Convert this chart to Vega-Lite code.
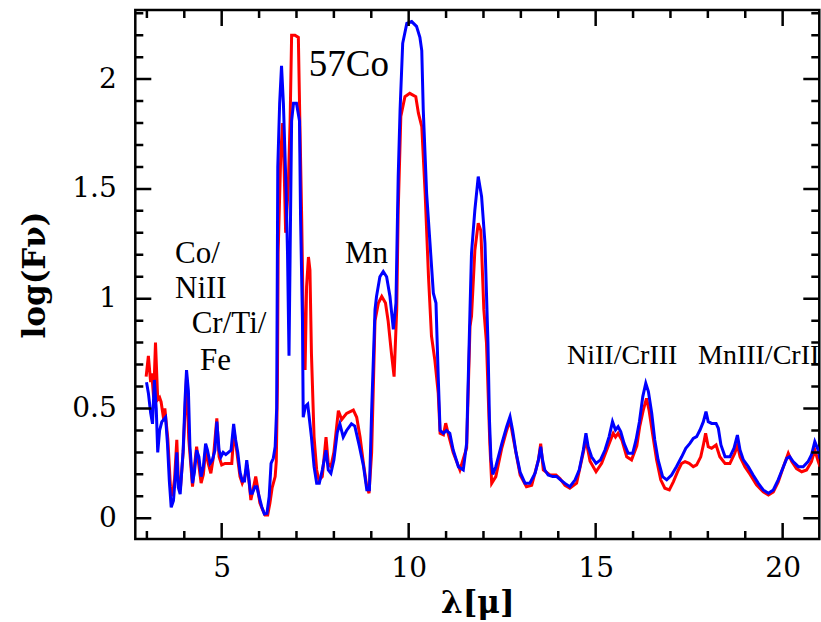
{
"$schema": "https://vega.github.io/schema/vega-lite/v6.json",
"width": 684, "height": 529,
"autosize": {"type": "none"},
"padding": {"left": 135.3, "top": 10, "right": 1.7, "bottom": 83},
"background": "white",
"config": {"view": {"stroke": "#000", "strokeWidth": 2.5},
 "axis": {"domain": false, "grid": false, "ticks": false, "labelColor": "#000", "labelFont": "DejaVu Serif", "labelFontSize": 28, "titleColor": "#000", "titleFont": "DejaVu Serif", "titleFontSize": 31, "titleFontWeight": "bold"}},
"datasets": {
"spec": [
{"s":"b","x":2.99,"y":0.62},{"s":"b","x":3.04,"y":0.57},{"s":"b","x":3.10,"y":0.48},{"s":"b","x":3.15,"y":0.43},{"s":"b","x":3.20,"y":0.63},{"s":"b","x":3.25,"y":0.50},{"s":"b","x":3.29,"y":0.30},{"s":"b","x":3.34,"y":0.40},{"s":"b","x":3.40,"y":0.44},{"s":"b","x":3.50,"y":0.46},{"s":"b","x":3.55,"y":0.34},{"s":"b","x":3.60,"y":0.17},{"s":"b","x":3.65,"y":0.05},{"s":"b","x":3.71,"y":0.08},{"s":"b","x":3.77,"y":0.21},{"s":"b","x":3.80,"y":0.30},{"s":"b","x":3.84,"y":0.14},{"s":"b","x":3.89,"y":0.11},{"s":"b","x":3.97,"y":0.31},{"s":"b","x":4.02,"y":0.54},{"s":"b","x":4.06,"y":0.675},{"s":"b","x":4.11,"y":0.58},{"s":"b","x":4.15,"y":0.33},{"s":"b","x":4.22,"y":0.16},{"s":"b","x":4.27,"y":0.21},{"s":"b","x":4.33,"y":0.31},{"s":"b","x":4.39,"y":0.28},{"s":"b","x":4.45,"y":0.19},{"s":"b","x":4.51,"y":0.235},{"s":"b","x":4.57,"y":0.34},{"s":"b","x":4.62,"y":0.31},{"s":"b","x":4.69,"y":0.25},{"s":"b","x":4.75,"y":0.265},{"s":"b","x":4.82,"y":0.31},{"s":"b","x":4.87,"y":0.44},{"s":"b","x":4.93,"y":0.31},{"s":"b","x":4.98,"y":0.28},{"s":"b","x":5.04,"y":0.30},{"s":"b","x":5.11,"y":0.29},{"s":"b","x":5.18,"y":0.30},{"s":"b","x":5.25,"y":0.31},{"s":"b","x":5.32,"y":0.43},{"s":"b","x":5.37,"y":0.36},{"s":"b","x":5.43,"y":0.30},{"s":"b","x":5.49,"y":0.21},{"s":"b","x":5.55,"y":0.17},{"s":"b","x":5.61,"y":0.17},{"s":"b","x":5.67,"y":0.265},{"s":"b","x":5.71,"y":0.205},{"s":"b","x":5.77,"y":0.114},{"s":"b","x":5.82,"y":0.114},{"s":"b","x":5.89,"y":0.144},{"s":"b","x":5.94,"y":0.144},{"s":"b","x":6.00,"y":0.10},{"s":"b","x":6.07,"y":0.053},{"s":"b","x":6.14,"y":0.02},{"s":"b","x":6.21,"y":0.023},{"s":"b","x":6.27,"y":0.10},{"s":"b","x":6.32,"y":0.25},{"s":"b","x":6.38,"y":0.273},{"s":"b","x":6.43,"y":0.326},{"s":"b","x":6.47,"y":0.50},{"s":"b","x":6.50,"y":1.60},{"s":"b","x":6.55,"y":1.89},{"s":"b","x":6.60,"y":2.06},{"s":"b","x":6.65,"y":1.89},{"s":"b","x":6.72,"y":1.51},{"s":"b","x":6.76,"y":1.21},{"s":"b","x":6.80,"y":0.74},{"s":"b","x":6.83,"y":1.21},{"s":"b","x":6.87,"y":1.81},{"s":"b","x":6.92,"y":1.89},{"s":"b","x":7.00,"y":1.89},{"s":"b","x":7.08,"y":1.81},{"s":"b","x":7.11,"y":1.36},{"s":"b","x":7.16,"y":0.90},{"s":"b","x":7.18,"y":0.46},{"s":"b","x":7.24,"y":0.51},{"s":"b","x":7.30,"y":0.52},{"s":"b","x":7.34,"y":0.46},{"s":"b","x":7.40,"y":0.37},{"s":"b","x":7.47,"y":0.235},{"s":"b","x":7.54,"y":0.16},{"s":"b","x":7.61,"y":0.16},{"s":"b","x":7.69,"y":0.22},{"s":"b","x":7.79,"y":0.31},{"s":"b","x":7.85,"y":0.22},{"s":"b","x":7.92,"y":0.205},{"s":"b","x":8.00,"y":0.265},{"s":"b","x":8.09,"y":0.39},{"s":"b","x":8.16,"y":0.43},{"s":"b","x":8.25,"y":0.37},{"s":"b","x":8.34,"y":0.40},{"s":"b","x":8.47,"y":0.43},{"s":"b","x":8.56,"y":0.42},{"s":"b","x":8.68,"y":0.33},{"s":"b","x":8.79,"y":0.24},{"s":"b","x":8.88,"y":0.13},{"s":"b","x":8.95,"y":0.13},{"s":"b","x":9.01,"y":0.49},{"s":"b","x":9.10,"y":0.95},{"s":"b","x":9.14,"y":1.01},{"s":"b","x":9.23,"y":1.10},{"s":"b","x":9.32,"y":1.124},{"s":"b","x":9.41,"y":1.10},{"s":"b","x":9.50,"y":1.01},{"s":"b","x":9.59,"y":0.86},{"s":"b","x":9.66,"y":0.98},{"s":"b","x":9.72,"y":1.556},{"s":"b","x":9.77,"y":1.86},{"s":"b","x":9.84,"y":2.163},{"s":"b","x":9.95,"y":2.254},{"s":"b","x":10.08,"y":2.262},{"s":"b","x":10.21,"y":2.24},{"s":"b","x":10.30,"y":2.19},{"s":"b","x":10.35,"y":2.13},{"s":"b","x":10.39,"y":1.86},{"s":"b","x":10.48,"y":1.48},{"s":"b","x":10.57,"y":1.253},{"s":"b","x":10.66,"y":1.025},{"s":"b","x":10.73,"y":0.98},{"s":"b","x":10.79,"y":0.645},{"s":"b","x":10.84,"y":0.40},{"s":"b","x":10.93,"y":0.387},{"s":"b","x":11.01,"y":0.40},{"s":"b","x":11.10,"y":0.387},{"s":"b","x":11.19,"y":0.311},{"s":"b","x":11.33,"y":0.235},{"s":"b","x":11.46,"y":0.22},{"s":"b","x":11.55,"y":0.342},{"s":"b","x":11.64,"y":0.95},{"s":"b","x":11.68,"y":1.207},{"s":"b","x":11.77,"y":1.404},{"s":"b","x":11.86,"y":1.556},{"s":"b","x":11.95,"y":1.465},{"s":"b","x":12.04,"y":1.253},{"s":"b","x":12.12,"y":0.80},{"s":"b","x":12.16,"y":0.45},{"s":"b","x":12.20,"y":0.27},{"s":"b","x":12.25,"y":0.20},{"s":"b","x":12.33,"y":0.235},{"s":"b","x":12.49,"y":0.34},{"s":"b","x":12.62,"y":0.417},{"s":"b","x":12.71,"y":0.463},{"s":"b","x":12.78,"y":0.40},{"s":"b","x":12.87,"y":0.30},{"s":"b","x":12.98,"y":0.21},{"s":"b","x":13.11,"y":0.16},{"s":"b","x":13.24,"y":0.16},{"s":"b","x":13.38,"y":0.205},{"s":"b","x":13.47,"y":0.266},{"s":"b","x":13.53,"y":0.326},{"s":"b","x":13.58,"y":0.266},{"s":"b","x":13.64,"y":0.22},{"s":"b","x":13.73,"y":0.197},{"s":"b","x":13.85,"y":0.19},{"s":"b","x":13.96,"y":0.19},{"s":"b","x":14.06,"y":0.175},{"s":"b","x":14.18,"y":0.159},{"s":"b","x":14.31,"y":0.144},{"s":"b","x":14.45,"y":0.175},{"s":"b","x":14.56,"y":0.22},{"s":"b","x":14.67,"y":0.311},{"s":"b","x":14.74,"y":0.387},{"s":"b","x":14.80,"y":0.326},{"s":"b","x":14.89,"y":0.28},{"s":"b","x":15.01,"y":0.25},{"s":"b","x":15.13,"y":0.266},{"s":"b","x":15.25,"y":0.311},{"s":"b","x":15.36,"y":0.372},{"s":"b","x":15.45,"y":0.44},{"s":"b","x":15.53,"y":0.402},{"s":"b","x":15.60,"y":0.417},{"s":"b","x":15.67,"y":0.395},{"s":"b","x":15.76,"y":0.341},{"s":"b","x":15.87,"y":0.296},{"s":"b","x":15.99,"y":0.296},{"s":"b","x":16.08,"y":0.357},{"s":"b","x":16.17,"y":0.44},{"s":"b","x":16.26,"y":0.554},{"s":"b","x":16.34,"y":0.615},{"s":"b","x":16.41,"y":0.577},{"s":"b","x":16.50,"y":0.478},{"s":"b","x":16.58,"y":0.357},{"s":"b","x":16.67,"y":0.266},{"s":"b","x":16.79,"y":0.19},{"s":"b","x":16.90,"y":0.175},{"s":"b","x":17.03,"y":0.197},{"s":"b","x":17.16,"y":0.235},{"s":"b","x":17.30,"y":0.28},{"s":"b","x":17.41,"y":0.319},{"s":"b","x":17.52,"y":0.341},{"s":"b","x":17.61,"y":0.364},{"s":"b","x":17.70,"y":0.372},{"s":"b","x":17.79,"y":0.402},{"s":"b","x":17.88,"y":0.44},{"s":"b","x":17.95,"y":0.486},{"s":"b","x":18.01,"y":0.44},{"s":"b","x":18.10,"y":0.432},{"s":"b","x":18.22,"y":0.432},{"s":"b","x":18.28,"y":0.41},{"s":"b","x":18.35,"y":0.334},{"s":"b","x":18.46,"y":0.28},{"s":"b","x":18.59,"y":0.28},{"s":"b","x":18.70,"y":0.319},{"s":"b","x":18.79,"y":0.379},{"s":"b","x":18.86,"y":0.311},{"s":"b","x":18.95,"y":0.266},{"s":"b","x":19.08,"y":0.235},{"s":"b","x":19.21,"y":0.197},{"s":"b","x":19.35,"y":0.159},{"s":"b","x":19.48,"y":0.129},{"s":"b","x":19.62,"y":0.114},{"s":"b","x":19.75,"y":0.129},{"s":"b","x":19.88,"y":0.175},{"s":"b","x":20.02,"y":0.235},{"s":"b","x":20.11,"y":0.273},{"s":"b","x":20.19,"y":0.28},{"s":"b","x":20.28,"y":0.258},{"s":"b","x":20.42,"y":0.235},{"s":"b","x":20.55,"y":0.235},{"s":"b","x":20.68,"y":0.258},{"s":"b","x":20.77,"y":0.288},{"s":"b","x":20.86,"y":0.349},{"s":"b","x":20.95,"y":0.311},{"s":"b","x":21.0,"y":0.27},
{"s":"r","x":2.98,"y":0.645},{"s":"r","x":3.04,"y":0.74},{"s":"r","x":3.10,"y":0.62},{"s":"r","x":3.13,"y":0.66},{"s":"r","x":3.18,"y":0.55},{"s":"r","x":3.23,"y":0.80},{"s":"r","x":3.29,"y":0.54},{"s":"r","x":3.34,"y":0.55},{"s":"r","x":3.38,"y":0.53},{"s":"r","x":3.45,"y":0.45},{"s":"r","x":3.48,"y":0.50},{"s":"r","x":3.56,"y":0.36},{"s":"r","x":3.63,"y":0.144},{"s":"r","x":3.68,"y":0.10},{"s":"r","x":3.74,"y":0.18},{"s":"r","x":3.80,"y":0.357},{"s":"r","x":3.84,"y":0.174},{"s":"r","x":3.90,"y":0.144},{"s":"r","x":3.97,"y":0.30},{"s":"r","x":4.06,"y":0.645},{"s":"r","x":4.12,"y":0.36},{"s":"r","x":4.22,"y":0.144},{"s":"r","x":4.28,"y":0.25},{"s":"r","x":4.33,"y":0.326},{"s":"r","x":4.39,"y":0.24},{"s":"r","x":4.45,"y":0.16},{"s":"r","x":4.51,"y":0.20},{"s":"r","x":4.57,"y":0.31},{"s":"r","x":4.64,"y":0.25},{"s":"r","x":4.71,"y":0.205},{"s":"r","x":4.78,"y":0.28},{"s":"r","x":4.87,"y":0.455},{"s":"r","x":4.93,"y":0.28},{"s":"r","x":5.00,"y":0.243},{"s":"r","x":5.09,"y":0.25},{"s":"r","x":5.18,"y":0.25},{"s":"r","x":5.27,"y":0.25},{"s":"r","x":5.33,"y":0.40},{"s":"r","x":5.40,"y":0.31},{"s":"r","x":5.49,"y":0.19},{"s":"r","x":5.55,"y":0.16},{"s":"r","x":5.62,"y":0.19},{"s":"r","x":5.68,"y":0.243},{"s":"r","x":5.73,"y":0.17},{"s":"r","x":5.78,"y":0.083},{"s":"r","x":5.85,"y":0.14},{"s":"r","x":5.91,"y":0.19},{"s":"r","x":5.96,"y":0.14},{"s":"r","x":6.02,"y":0.07},{"s":"r","x":6.09,"y":0.04},{"s":"r","x":6.16,"y":0.015},{"s":"r","x":6.23,"y":0.015},{"s":"r","x":6.29,"y":0.07},{"s":"r","x":6.35,"y":0.14},{"s":"r","x":6.43,"y":0.19},{"s":"r","x":6.46,"y":0.26},{"s":"r","x":6.49,"y":0.60},{"s":"r","x":6.51,"y":1.21},{"s":"r","x":6.58,"y":1.66},{"s":"r","x":6.63,"y":1.80},{"s":"r","x":6.67,"y":1.59},{"s":"r","x":6.71,"y":1.30},{"s":"r","x":6.78,"y":1.51},{"s":"r","x":6.83,"y":1.81},{"s":"r","x":6.87,"y":2.20},{"s":"r","x":6.96,"y":2.20},{"s":"r","x":7.05,"y":2.19},{"s":"r","x":7.09,"y":1.81},{"s":"r","x":7.14,"y":1.36},{"s":"r","x":7.18,"y":0.90},{"s":"r","x":7.23,"y":0.675},{"s":"r","x":7.27,"y":1.055},{"s":"r","x":7.32,"y":1.19},{"s":"r","x":7.36,"y":1.13},{"s":"r","x":7.40,"y":0.75},{"s":"r","x":7.47,"y":0.37},{"s":"r","x":7.54,"y":0.22},{"s":"r","x":7.60,"y":0.174},{"s":"r","x":7.69,"y":0.19},{"s":"r","x":7.79,"y":0.37},{"s":"r","x":7.85,"y":0.25},{"s":"r","x":7.92,"y":0.235},{"s":"r","x":8.00,"y":0.30},{"s":"r","x":8.12,"y":0.49},{"s":"r","x":8.21,"y":0.45},{"s":"r","x":8.34,"y":0.478},{"s":"r","x":8.52,"y":0.493},{"s":"r","x":8.61,"y":0.46},{"s":"r","x":8.70,"y":0.37},{"s":"r","x":8.79,"y":0.25},{"s":"r","x":8.88,"y":0.144},{"s":"r","x":8.94,"y":0.114},{"s":"r","x":9.01,"y":0.30},{"s":"r","x":9.10,"y":0.90},{"s":"r","x":9.19,"y":0.98},{"s":"r","x":9.28,"y":1.01},{"s":"r","x":9.38,"y":0.98},{"s":"r","x":9.45,"y":0.90},{"s":"r","x":9.54,"y":0.75},{"s":"r","x":9.61,"y":0.645},{"s":"r","x":9.68,"y":0.95},{"s":"r","x":9.72,"y":1.40},{"s":"r","x":9.79,"y":1.83},{"s":"r","x":9.90,"y":1.92},{"s":"r","x":10.03,"y":1.935},{"s":"r","x":10.19,"y":1.92},{"s":"r","x":10.26,"y":1.845},{"s":"r","x":10.35,"y":1.784},{"s":"r","x":10.44,"y":1.48},{"s":"r","x":10.53,"y":1.10},{"s":"r","x":10.61,"y":0.83},{"s":"r","x":10.70,"y":0.72},{"s":"r","x":10.79,"y":0.57},{"s":"r","x":10.84,"y":0.387},{"s":"r","x":10.93,"y":0.38},{"s":"r","x":10.99,"y":0.433},{"s":"r","x":11.05,"y":0.39},{"s":"r","x":11.19,"y":0.30},{"s":"r","x":11.37,"y":0.22},{"s":"r","x":11.55,"y":0.32},{"s":"r","x":11.64,"y":0.873},{"s":"r","x":11.68,"y":0.92},{"s":"r","x":11.77,"y":1.22},{"s":"r","x":11.86,"y":1.344},{"s":"r","x":11.93,"y":1.31},{"s":"r","x":12.01,"y":0.95},{"s":"r","x":12.08,"y":0.80},{"s":"r","x":12.17,"y":0.34},{"s":"r","x":12.22,"y":0.159},{"s":"r","x":12.33,"y":0.19},{"s":"r","x":12.49,"y":0.32},{"s":"r","x":12.62,"y":0.40},{"s":"r","x":12.71,"y":0.447},{"s":"r","x":12.78,"y":0.38},{"s":"r","x":12.98,"y":0.197},{"s":"r","x":13.15,"y":0.144},{"s":"r","x":13.29,"y":0.15},{"s":"r","x":13.47,"y":0.266},{"s":"r","x":13.53,"y":0.34},{"s":"r","x":13.60,"y":0.22},{"s":"r","x":13.78,"y":0.197},{"s":"r","x":13.94,"y":0.197},{"s":"r","x":14.05,"y":0.18},{"s":"r","x":14.18,"y":0.15},{"s":"r","x":14.31,"y":0.137},{"s":"r","x":14.49,"y":0.16},{"s":"r","x":14.67,"y":0.30},{"s":"r","x":14.74,"y":0.357},{"s":"r","x":14.85,"y":0.26},{"s":"r","x":15.01,"y":0.212},{"s":"r","x":15.16,"y":0.25},{"s":"r","x":15.36,"y":0.34},{"s":"r","x":15.47,"y":0.387},{"s":"r","x":15.53,"y":0.37},{"s":"r","x":15.60,"y":0.387},{"s":"r","x":15.70,"y":0.357},{"s":"r","x":15.83,"y":0.28},{"s":"r","x":15.96,"y":0.266},{"s":"r","x":16.10,"y":0.33},{"s":"r","x":16.18,"y":0.42},{"s":"r","x":16.27,"y":0.49},{"s":"r","x":16.36,"y":0.546},{"s":"r","x":16.43,"y":0.49},{"s":"r","x":16.52,"y":0.387},{"s":"r","x":16.63,"y":0.266},{"s":"r","x":16.74,"y":0.175},{"s":"r","x":16.85,"y":0.137},{"s":"r","x":16.97,"y":0.129},{"s":"r","x":17.08,"y":0.167},{"s":"r","x":17.21,"y":0.22},{"s":"r","x":17.30,"y":0.25},{"s":"r","x":17.39,"y":0.258},{"s":"r","x":17.50,"y":0.25},{"s":"r","x":17.61,"y":0.235},{"s":"r","x":17.70,"y":0.243},{"s":"r","x":17.81,"y":0.28},{"s":"r","x":17.88,"y":0.334},{"s":"r","x":17.94,"y":0.387},{"s":"r","x":18.01,"y":0.326},{"s":"r","x":18.10,"y":0.319},{"s":"r","x":18.22,"y":0.334},{"s":"r","x":18.32,"y":0.28},{"s":"r","x":18.46,"y":0.25},{"s":"r","x":18.59,"y":0.25},{"s":"r","x":18.72,"y":0.296},{"s":"r","x":18.79,"y":0.334},{"s":"r","x":18.86,"y":0.28},{"s":"r","x":18.99,"y":0.235},{"s":"r","x":19.13,"y":0.20},{"s":"r","x":19.30,"y":0.152},{"s":"r","x":19.48,"y":0.121},{"s":"r","x":19.62,"y":0.106},{"s":"r","x":19.75,"y":0.12},{"s":"r","x":19.88,"y":0.165},{"s":"r","x":20.02,"y":0.235},{"s":"r","x":20.15,"y":0.296},{"s":"r","x":20.24,"y":0.26},{"s":"r","x":20.37,"y":0.226},{"s":"r","x":20.51,"y":0.212},{"s":"r","x":20.64,"y":0.22},{"s":"r","x":20.77,"y":0.258},{"s":"r","x":20.86,"y":0.311},{"s":"r","x":20.95,"y":0.26},{"s":"r","x":21.0,"y":0.235}
],
"labels": [
{"g":"big","x":7.33,"y":2.014,"t":"57Co"},
{"g":"mid","x":8.297,"y":1.164,"t":"Mn"},
{"g":"mid","x":3.752,"y":1.164,"t":"Co/"},
{"g":"mid","x":3.752,"y":1.002,"t":"NiII"},
{"g":"mid","x":4.198,"y":0.842,"t":"Cr/Ti/"},
{"g":"mid","x":4.42,"y":0.675,"t":"Fe"},
{"g":"small","x":14.233,"y":0.703,"t":"NiII/CrIII"},
{"g":"small","x":17.736,"y":0.703,"t":"MnIII/CrII"}
],
"ticks": [
{"a":"x","k":"M","v":5},{"a":"x","k":"M","v":10},{"a":"x","k":"M","v":15},{"a":"x","k":"M","v":20},
{"a":"x","k":"m","v":3},{"a":"x","k":"m","v":4},{"a":"x","k":"m","v":6},{"a":"x","k":"m","v":7},{"a":"x","k":"m","v":8},{"a":"x","k":"m","v":9},{"a":"x","k":"m","v":11},{"a":"x","k":"m","v":12},{"a":"x","k":"m","v":13},{"a":"x","k":"m","v":14},{"a":"x","k":"m","v":16},{"a":"x","k":"m","v":17},{"a":"x","k":"m","v":18},{"a":"x","k":"m","v":19},
{"a":"y","k":"M","v":0},{"a":"y","k":"M","v":0.5},{"a":"y","k":"M","v":1},{"a":"y","k":"M","v":1.5},{"a":"y","k":"M","v":2},
{"a":"y","k":"m","v":0.1},{"a":"y","k":"m","v":0.2},{"a":"y","k":"m","v":0.3},{"a":"y","k":"m","v":0.4},{"a":"y","k":"m","v":0.6},{"a":"y","k":"m","v":0.7},{"a":"y","k":"m","v":0.8},{"a":"y","k":"m","v":0.9},{"a":"y","k":"m","v":1.1},{"a":"y","k":"m","v":1.2},{"a":"y","k":"m","v":1.3},{"a":"y","k":"m","v":1.4},{"a":"y","k":"m","v":1.6},{"a":"y","k":"m","v":1.7},{"a":"y","k":"m","v":1.8},{"a":"y","k":"m","v":1.9},{"a":"y","k":"m","v":2.1},{"a":"y","k":"m","v":2.2},{"a":"y","k":"m","v":2.3}
]
},
"resolve": {"axis": {"x": "independent", "y": "independent"}},
"layer": [
{"data": {"name": "spec"}, "transform": [{"filter": "datum.s == 'r'"}],
 "mark": {"type": "line", "color": "#ff0000", "strokeWidth": 3, "clip": true},
 "encoding": {
  "x": {"field": "x", "type": "quantitative", "scale": {"domain": [2.69, 20.98], "nice": false, "zero": false},
   "axis": {"orient": "bottom", "values": [5, 10, 15, 20], "labelPadding": 15, "title": "λ[μ]", "titlePadding": 6}},
  "y": {"field": "y", "type": "quantitative", "scale": {"domain": [-0.0943, 2.3147], "nice": false, "zero": false},
   "axis": {"orient": "left", "values": [0, 0.5, 1, 1.5, 2], "format": "~g", "labelPadding": 19, "title": "log(Fν)", "titlePadding": 20}}}},
{"data": {"name": "spec"}, "transform": [{"filter": "datum.s == 'b'"}],
 "mark": {"type": "line", "color": "#0000ff", "strokeWidth": 3, "clip": true},
 "encoding": {
  "x": {"field": "x", "type": "quantitative", "scale": {"domain": [2.69, 20.98], "nice": false, "zero": false}, "axis": null},
  "y": {"field": "y", "type": "quantitative", "scale": {"domain": [-0.0943, 2.3147], "nice": false, "zero": false}, "axis": null}}},
{"data": {"name": "labels"}, "transform": [{"filter": "datum.g == 'big'"}],
 "mark": {"type": "text", "align": "left", "baseline": "alphabetic", "font": "Liberation Serif", "fontSize": 37, "color": "#000"},
 "encoding": {
  "x": {"field": "x", "type": "quantitative", "scale": {"domain": [2.69, 20.98], "nice": false, "zero": false}, "axis": null},
  "y": {"field": "y", "type": "quantitative", "scale": {"domain": [-0.0943, 2.3147], "nice": false, "zero": false}, "axis": null},
  "text": {"field": "t"}}},
{"data": {"name": "labels"}, "transform": [{"filter": "datum.g == 'mid'"}],
 "mark": {"type": "text", "align": "left", "baseline": "alphabetic", "font": "Liberation Serif", "fontSize": 31, "color": "#000"},
 "encoding": {
  "x": {"field": "x", "type": "quantitative", "scale": {"domain": [2.69, 20.98], "nice": false, "zero": false}, "axis": null},
  "y": {"field": "y", "type": "quantitative", "scale": {"domain": [-0.0943, 2.3147], "nice": false, "zero": false}, "axis": null},
  "text": {"field": "t"}}},
{"data": {"name": "labels"}, "transform": [{"filter": "datum.g == 'small'"}],
 "mark": {"type": "text", "align": "left", "baseline": "alphabetic", "font": "Liberation Serif", "fontSize": 28, "color": "#000", "clip": true},
 "encoding": {
  "x": {"field": "x", "type": "quantitative", "scale": {"domain": [2.69, 20.98], "nice": false, "zero": false}, "axis": null},
  "y": {"field": "y", "type": "quantitative", "scale": {"domain": [-0.0943, 2.3147], "nice": false, "zero": false}, "axis": null},
  "text": {"field": "t"}}},
{"data": {"name": "ticks"}, "transform": [{"filter": "datum.a == 'x' && datum.k == 'M'"}],
 "mark": {"type": "tick", "orient": "vertical", "size": 32, "thickness": 2.5, "color": "#000", "opacity": 1, "clip": true},
 "encoding": {
  "x": {"field": "v", "type": "quantitative", "scale": {"domain": [2.69, 20.98], "nice": false, "zero": false}, "axis": null},
  "y": {"datum": -0.0943, "type": "quantitative", "scale": {"domain": [-0.0943, 2.3147], "nice": false, "zero": false}, "axis": null}}},
{"data": {"name": "ticks"}, "transform": [{"filter": "datum.a == 'x' && datum.k == 'M'"}],
 "mark": {"type": "tick", "orient": "vertical", "size": 32, "thickness": 2.5, "color": "#000", "opacity": 1, "clip": true},
 "encoding": {
  "x": {"field": "v", "type": "quantitative", "scale": {"domain": [2.69, 20.98], "nice": false, "zero": false}, "axis": null},
  "y": {"datum": 2.3147, "type": "quantitative", "scale": {"domain": [-0.0943, 2.3147], "nice": false, "zero": false}, "axis": null}}},
{"data": {"name": "ticks"}, "transform": [{"filter": "datum.a == 'x' && datum.k == 'm'"}],
 "mark": {"type": "tick", "orient": "vertical", "size": 16, "thickness": 2.5, "color": "#000", "opacity": 1, "clip": true},
 "encoding": {
  "x": {"field": "v", "type": "quantitative", "scale": {"domain": [2.69, 20.98], "nice": false, "zero": false}, "axis": null},
  "y": {"datum": -0.0943, "type": "quantitative", "scale": {"domain": [-0.0943, 2.3147], "nice": false, "zero": false}, "axis": null}}},
{"data": {"name": "ticks"}, "transform": [{"filter": "datum.a == 'x' && datum.k == 'm'"}],
 "mark": {"type": "tick", "orient": "vertical", "size": 16, "thickness": 2.5, "color": "#000", "opacity": 1, "clip": true},
 "encoding": {
  "x": {"field": "v", "type": "quantitative", "scale": {"domain": [2.69, 20.98], "nice": false, "zero": false}, "axis": null},
  "y": {"datum": 2.3147, "type": "quantitative", "scale": {"domain": [-0.0943, 2.3147], "nice": false, "zero": false}, "axis": null}}},
{"data": {"name": "ticks"}, "transform": [{"filter": "datum.a == 'y' && datum.k == 'M'"}],
 "mark": {"type": "tick", "orient": "horizontal", "size": 32, "thickness": 2.5, "color": "#000", "opacity": 1, "clip": true},
 "encoding": {
  "y": {"field": "v", "type": "quantitative", "scale": {"domain": [-0.0943, 2.3147], "nice": false, "zero": false}, "axis": null},
  "x": {"datum": 2.69, "type": "quantitative", "scale": {"domain": [2.69, 20.98], "nice": false, "zero": false}, "axis": null}}},
{"data": {"name": "ticks"}, "transform": [{"filter": "datum.a == 'y' && datum.k == 'M'"}],
 "mark": {"type": "tick", "orient": "horizontal", "size": 32, "thickness": 2.5, "color": "#000", "opacity": 1, "clip": true},
 "encoding": {
  "y": {"field": "v", "type": "quantitative", "scale": {"domain": [-0.0943, 2.3147], "nice": false, "zero": false}, "axis": null},
  "x": {"datum": 20.98, "type": "quantitative", "scale": {"domain": [2.69, 20.98], "nice": false, "zero": false}, "axis": null}}},
{"data": {"name": "ticks"}, "transform": [{"filter": "datum.a == 'y' && datum.k == 'm'"}],
 "mark": {"type": "tick", "orient": "horizontal", "size": 16, "thickness": 2.5, "color": "#000", "opacity": 1, "clip": true},
 "encoding": {
  "y": {"field": "v", "type": "quantitative", "scale": {"domain": [-0.0943, 2.3147], "nice": false, "zero": false}, "axis": null},
  "x": {"datum": 2.69, "type": "quantitative", "scale": {"domain": [2.69, 20.98], "nice": false, "zero": false}, "axis": null}}},
{"data": {"name": "ticks"}, "transform": [{"filter": "datum.a == 'y' && datum.k == 'm'"}],
 "mark": {"type": "tick", "orient": "horizontal", "size": 16, "thickness": 2.5, "color": "#000", "opacity": 1, "clip": true},
 "encoding": {
  "y": {"field": "v", "type": "quantitative", "scale": {"domain": [-0.0943, 2.3147], "nice": false, "zero": false}, "axis": null},
  "x": {"datum": 20.98, "type": "quantitative", "scale": {"domain": [2.69, 20.98], "nice": false, "zero": false}, "axis": null}}}
]
}
